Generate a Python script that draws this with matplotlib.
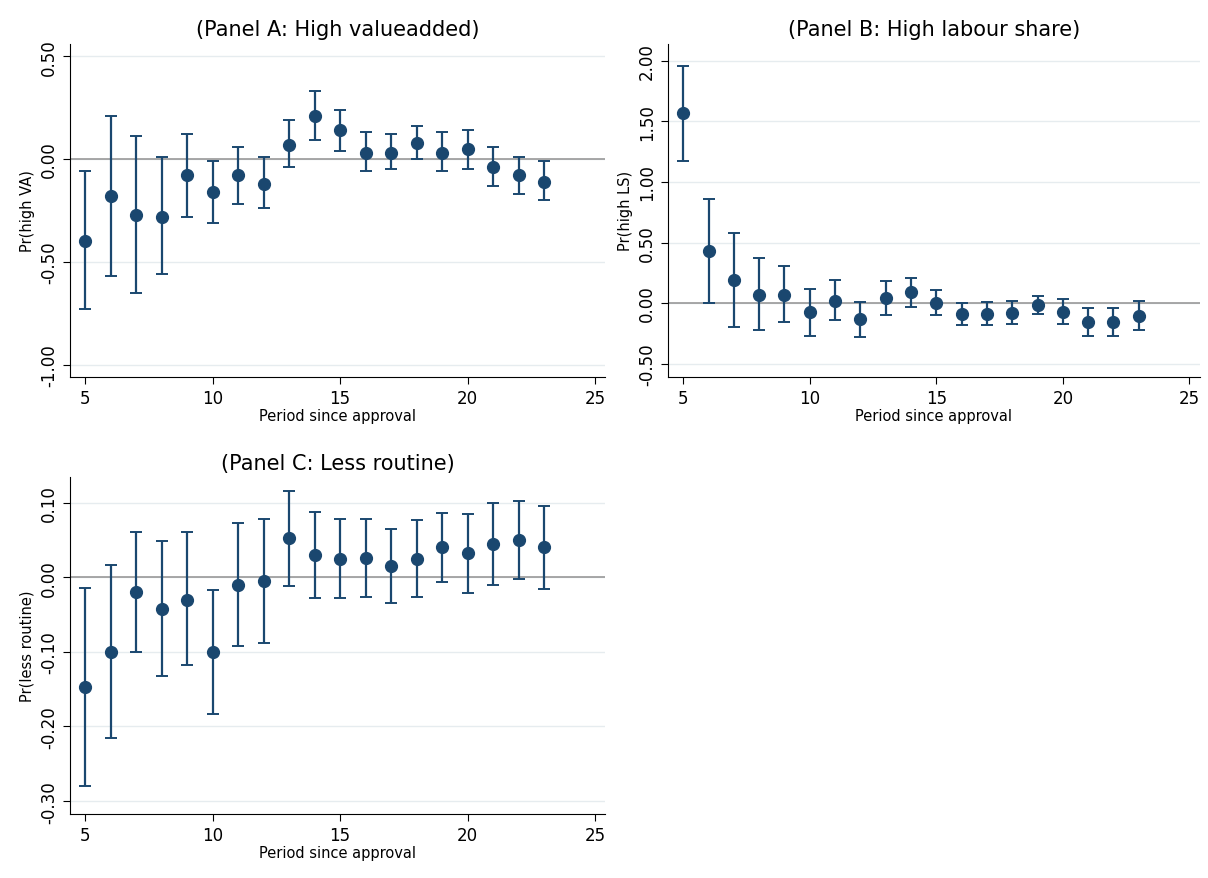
import matplotlib
matplotlib.use('Agg')
import matplotlib.pyplot as plt

periods = list(range(5, 24))

va_est = [-0.40, -0.18, -0.27, -0.28, -0.08, -0.16, -0.08, -0.12, 0.07, 0.21, 0.14, 0.03, 0.03, 0.08, 0.03, 0.05, -0.04, -0.08, -0.11]
va_lo = [-0.73, -0.57, -0.65, -0.56, -0.28, -0.31, -0.22, -0.24, -0.04, 0.09, 0.04, -0.06, -0.05, 0.00, -0.06, -0.05, -0.13, -0.17, -0.20]
va_hi = [-0.06, 0.21, 0.11, 0.01, 0.12, -0.01, 0.06, 0.01, 0.19, 0.33, 0.24, 0.13, 0.12, 0.16, 0.13, 0.14, 0.06, 0.01, -0.01]

ls_est = [1.57, 0.43, 0.19, 0.07, 0.07, -0.07, 0.02, -0.13, 0.04, 0.09, 0.00, -0.09, -0.09, -0.08, -0.02, -0.07, -0.16, -0.16, -0.11]
ls_lo = [1.17, 0.00, -0.20, -0.22, -0.16, -0.27, -0.14, -0.28, -0.10, -0.03, -0.10, -0.18, -0.18, -0.17, -0.09, -0.17, -0.27, -0.27, -0.22]
ls_hi = [1.96, 0.86, 0.58, 0.37, 0.31, 0.12, 0.19, 0.01, 0.18, 0.21, 0.11, 0.00, 0.01, 0.02, 0.06, 0.03, -0.04, -0.04, 0.02]

rt_est = [-0.147, -0.100, -0.020, -0.043, -0.030, -0.100, -0.010, -0.005, 0.052, 0.030, 0.025, 0.026, 0.015, 0.025, 0.040, 0.032, 0.045, 0.050, 0.040]
rt_lo = [-0.280, -0.215, -0.100, -0.133, -0.117, -0.183, -0.092, -0.088, -0.012, -0.028, -0.028, -0.027, -0.035, -0.026, -0.007, -0.021, -0.011, -0.002, -0.016]
rt_hi = [-0.015, 0.017, 0.060, 0.048, 0.060, -0.017, 0.072, 0.078, 0.115, 0.087, 0.078, 0.078, 0.065, 0.076, 0.086, 0.085, 0.100, 0.102, 0.095]

navy = '#1a476f'

fig = plt.figure(figsize=(12.08, 8.79), dpi=100)
fig.patch.set_facecolor('white')


def panel(rect, est, lo, hi, title, ylabel, yticks, ylim):
    ax = fig.add_axes(rect)
    err = [[e - l for e, l in zip(est, lo)], [h - e for e, h in zip(est, hi)]]
    ax.axhline(0, color='#999999', lw=1.2, zorder=1)
    ax.errorbar(periods, est, yerr=err, fmt='o', color=navy, ms=8.5,
                elinewidth=1.6, capsize=4, capthick=1.4, zorder=3)
    ax.set_xlim(4.4, 25.4)
    ax.set_ylim(*ylim)
    ax.set_xticks([5, 10, 15, 20, 25])
    ax.set_yticks(yticks)
    ax.set_yticklabels([f'{t:.2f}' for t in yticks], rotation=90, va='center')
    ax.grid(axis='y', color='#e6ecef', lw=1)
    ax.set_axisbelow(True)
    for s in ['top', 'right']:
        ax.spines[s].set_visible(False)
    ax.tick_params(labelsize=12, length=5)
    ax.set_title(title, fontsize=15)
    ax.set_xlabel('Period since approval', fontsize=10.5, labelpad=1)
    ax.set_ylabel(ylabel, fontsize=10.5)
    return ax


panel([0.058, 0.570, 0.443, 0.379], va_est, va_lo, va_hi,
      '(Panel A: High valueadded)', 'Pr(high VA)', [-1.0, -0.5, 0.0, 0.5], (-1.06, 0.56))
panel([0.553, 0.570, 0.440, 0.379], ls_est, ls_lo, ls_hi,
      '(Panel B: High labour share)', 'Pr(high LS)', [-0.5, 0.0, 0.5, 1.0, 1.5, 2.0], (-0.61, 2.14))
panel([0.058, 0.073, 0.443, 0.383], rt_est, rt_lo, rt_hi,
      '(Panel C: Less routine)', 'Pr(less routine)', [-0.3, -0.2, -0.1, 0.0, 0.1], (-0.317, 0.134))

fig.savefig('out.png', dpi=100)
